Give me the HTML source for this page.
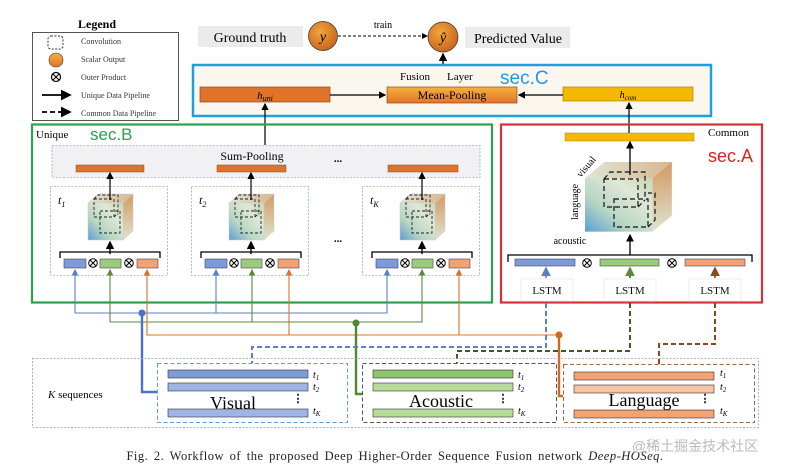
<!DOCTYPE html>
<html><head><meta charset="utf-8"><style>
body{margin:0;background:#fff}
svg{display:block;font-family:"Liberation Serif",serif}
</style></head><body>
<svg width="786" height="470" viewBox="0 0 786 470" xmlns="http://www.w3.org/2000/svg">
<defs>
<linearGradient id="cf" x1="0" y1="1" x2="1" y2="0"><stop offset="0" stop-color="#5a9fd0"/><stop offset="0.35" stop-color="#b9d6c4"/><stop offset="0.7" stop-color="#dfe8d8"/><stop offset="1" stop-color="#c9d7b5"/></linearGradient>
<linearGradient id="cs" x1="0" y1="0" x2="0" y2="1"><stop offset="0" stop-color="#d29a62"/><stop offset="1" stop-color="#dfe3d0"/></linearGradient>
<linearGradient id="ct" x1="0" y1="0" x2="1" y2="0"><stop offset="0" stop-color="#dfe6d6"/><stop offset="1" stop-color="#d8b690"/></linearGradient>
<linearGradient id="og" x1="0" y1="0" x2="0" y2="1"><stop offset="0" stop-color="#f7b13c"/><stop offset="1" stop-color="#e2742a"/></linearGradient>
<radialGradient id="ball" cx="0.4" cy="0.35" r="0.7"><stop offset="0" stop-color="#f2a53a"/><stop offset="1" stop-color="#c8621c"/></radialGradient>
<marker id="ah" markerWidth="6" markerHeight="6" refX="5" refY="3" orient="auto"><path d="M0,0L6,3L0,6z" fill="#000"/></marker>
<marker id="ab" markerWidth="6" markerHeight="6" refX="5" refY="3" orient="auto"><path d="M0,0L6,3L0,6z" fill="#5b7fc9"/></marker>
<marker id="ag" markerWidth="6" markerHeight="6" refX="5" refY="3" orient="auto"><path d="M0,0L6,3L0,6z" fill="#5b8a3a"/></marker>
<marker id="ao" markerWidth="6" markerHeight="6" refX="5" refY="3" orient="auto"><path d="M0,0L6,3L0,6z" fill="#d8742c"/></marker>
<marker id="an" markerWidth="6" markerHeight="6" refX="5" refY="3" orient="auto"><path d="M0,0L6,3L0,6z" fill="#8a4a1e"/></marker>
<g id="cube">
<polygon points="0,0 10,-9 45,-9 35,0" fill="url(#ct)" stroke="#ccc" stroke-width="0.5"/>
<polygon points="35,0 45,-9 45,28 35,37" fill="url(#cs)" stroke="#ccc" stroke-width="0.5"/>
<rect x="0" y="0" width="35" height="37" fill="url(#cf)" stroke="#ccc" stroke-width="0.5"/>
<g fill="none" stroke="#222" stroke-width="0.9" stroke-dasharray="3,2">
<rect x="6" y="-4" width="20" height="18"/><rect x="12" y="8" width="20" height="22"/><path d="M6,-4L10,-8H30V12M26,14L30,10"/>
</g>
</g>
</defs>

<!-- Legend -->
<text x="97" y="28" font-size="12" font-weight="bold" text-anchor="middle">Legend</text>
<rect x="32.5" y="32.5" width="146" height="88" fill="#fff" stroke="#555"/>
<rect x="48" y="36" width="15" height="13" rx="3" fill="none" stroke="#333" stroke-dasharray="2,1.5"/>
<circle cx="56" cy="60" r="7" fill="url(#og)" stroke="#333" stroke-width="0.6"/>
<circle cx="56" cy="77" r="4.5" fill="none" stroke="#000" stroke-width="1.2"/><path d="M53,74L59,80M59,74L53,80" stroke="#000" stroke-width="1.1"/>
<line x1="42" y1="95" x2="70" y2="95" stroke="#000" stroke-width="1.8" marker-end="url(#ah)"/>
<line x1="42" y1="112" x2="70" y2="112" stroke="#000" stroke-width="1.8" stroke-dasharray="5,3" marker-end="url(#ah)"/>
<g font-size="8" fill="#333"><text x="81" y="44">Convolution</text><text x="81" y="62">Scalar Output</text><text x="81" y="80">Outer Product</text><text x="81" y="98">Unique Data Pipeline</text><text x="81" y="116">Common Data Pipeline</text></g>

<!-- top -->
<rect x="198" y="26" width="105" height="21" fill="#ebebeb"/>
<text x="250" y="42" font-size="14" text-anchor="middle">Ground truth</text>
<circle cx="323" cy="36" r="14.5" fill="url(#ball)" stroke="#333" stroke-width="0.7"/>
<text x="323" y="41" font-size="14" font-style="italic" text-anchor="middle">y</text>
<line x1="338" y1="36" x2="427" y2="36" stroke="#000" stroke-dasharray="3,2" marker-end="url(#ah)"/>
<text x="383" y="28" font-size="10" text-anchor="middle">train</text>
<circle cx="443" cy="37" r="15" fill="url(#ball)" stroke="#333" stroke-width="0.7"/>
<text x="443" y="42" font-size="14" font-style="italic" text-anchor="middle">ŷ</text>
<rect x="465" y="27" width="105" height="21" fill="#ebebeb"/>
<text x="518" y="43" font-size="14" text-anchor="middle">Predicted Value</text>
<line x1="443" y1="95" x2="443" y2="54" stroke="#000" stroke-width="1.4" marker-end="url(#ah)"/>

<!-- fusion -->
<rect x="193" y="65" width="518" height="51" fill="#fbf7ef" stroke="#1ea0dc" stroke-width="2.5"/>
<text x="400" y="80" font-size="11">Fusion</text><text x="447" y="80" font-size="11">Layer</text>
<text x="500" y="84" font-size="19" fill="#1e9be0" font-family="Liberation Sans,sans-serif">sec.C</text>
<rect x="200" y="87" width="130" height="15" fill="#e0732a" stroke="#8a4a1e" stroke-width="0.7"/>
<text x="265" y="99" font-size="11" font-style="italic" text-anchor="middle">h<tspan font-size="8" dy="2">uni</tspan></text>
<rect x="387" y="87" width="130" height="16" fill="url(#og)" stroke="#8a4a1e" stroke-width="0.7"/>
<text x="452" y="99" font-size="12" text-anchor="middle">Mean-Pooling</text>
<rect x="563" y="87" width="130" height="14" fill="#f5b800" stroke="#b08010" stroke-width="0.7"/>
<text x="628" y="98" font-size="10" font-style="italic" text-anchor="middle">h<tspan font-size="7" dy="2">com</tspan></text>
<line x1="330" y1="95" x2="385" y2="95" stroke="#000" stroke-width="1.2" marker-end="url(#ah)"/>
<line x1="563" y1="95" x2="519" y2="95" stroke="#000" stroke-width="1.2" marker-end="url(#ah)"/>
<line x1="265" y1="145" x2="265" y2="104" stroke="#000" stroke-width="1.2" marker-end="url(#ah)"/>
<line x1="629" y1="133" x2="629" y2="103" stroke="#000" stroke-width="1.2" marker-end="url(#ah)"/>

<!-- Unique -->
<rect x="32" y="124.5" width="460" height="178" fill="none" stroke="#2aa050" stroke-width="2.2"/>
<text x="36" y="138" font-size="11">Unique</text>
<text x="90" y="140" font-size="17" fill="#2aa050" font-family="Liberation Sans,sans-serif">sec.B</text>
<rect x="52" y="145.5" width="428" height="32" fill="#f1f1f3" stroke="#7a8ab0" stroke-width="0.6" stroke-dasharray="2,1.5"/>
<text x="252" y="160" font-size="12" text-anchor="middle">Sum-Pooling</text>
<text x="338" y="162" font-size="11" font-weight="bold" text-anchor="middle">...</text>
<text x="338" y="242" font-size="11" font-weight="bold" text-anchor="middle">...</text>
<rect x="76" y="165" width="68" height="7" fill="#e0732a" stroke="#8a4a1e" stroke-width="0.5"/>
<rect x="217" y="165" width="69" height="7" fill="#e0732a" stroke="#8a4a1e" stroke-width="0.5"/>
<rect x="388" y="165" width="70" height="7" fill="#e0732a" stroke="#8a4a1e" stroke-width="0.5"/>

<g id="sub">
<rect x="50.5" y="186.5" width="117" height="89" fill="none" stroke="#7a8ab0" stroke-width="0.6" stroke-dasharray="2,1.5"/>
<use href="#cube" x="88" y="203"/>
<line x1="110" y1="200" x2="110" y2="173" stroke="#000" stroke-width="1.2" marker-end="url(#ah)"/>
<line x1="110" y1="254" x2="110" y2="242" stroke="#000" stroke-width="1.4" marker-end="url(#ah)"/>
<path d="M60,258V252H160V258" fill="none" stroke="#000" stroke-width="1.3"/>
<rect x="64" y="259" width="22" height="9" fill="#7c9bd8" stroke="#445" stroke-width="0.6"/>
<rect x="100" y="259" width="21" height="9" fill="#9ccc7a" stroke="#445" stroke-width="0.6"/>
<rect x="137" y="259" width="21" height="9" fill="#f2a274" stroke="#445" stroke-width="0.6"/>
<g stroke="#000" stroke-width="1" fill="none"><circle cx="93" cy="263" r="4.3"/><path d="M90,260L96,266M96,260L90,266"/><circle cx="129" cy="263" r="4.3"/><path d="M126,260L132,266M132,260L126,266"/></g>
</g>
<use href="#sub" x="141"/>
<use href="#sub" x="312"/>
<g font-size="12" font-style="italic"><text x="58" y="204">t<tspan font-size="8" dy="3">1</tspan></text><text x="199" y="204">t<tspan font-size="8" dy="3">2</tspan></text><text x="370" y="204">t<tspan font-size="8" dy="3">K</tspan></text></g>

<!-- Common -->
<rect x="501" y="124.5" width="261" height="178" fill="none" stroke="#d8303a" stroke-width="2.2"/>
<text x="708" y="136" font-size="11">Common</text>
<text x="708" y="162" font-size="18" fill="#e02020" font-family="Liberation Sans,sans-serif">sec.A</text>
<rect x="565" y="133" width="129" height="8" fill="#f5b800" stroke="#b08010" stroke-width="0.5"/>
<g transform="translate(585,178) scale(1.93,1.45)">
<polygon points="0,0 10,-11 45,-11 35,0" fill="url(#ct)"/>
<polygon points="35,0 45,-11 45,26 35,37" fill="url(#cs)"/>
<rect x="0" y="0" width="35" height="37" fill="url(#cf)"/>
</g>
<g fill="none" stroke="#111" stroke-width="1.2" stroke-dasharray="5,3"><rect x="604" y="179" width="34" height="28"/><rect x="614" y="199" width="34" height="28"/><path d="M604,179L610,172H645V200M638,207L645,200M648,227L655,220V193H648"/></g>
<line x1="630" y1="175" x2="630" y2="142" stroke="#000" stroke-width="1.3" marker-end="url(#ah)"/>
<line x1="630" y1="255" x2="630" y2="235" stroke="#000" stroke-width="1.3" marker-end="url(#ah)"/>
<text x="570" y="244" font-size="10" text-anchor="middle">acoustic</text>
<text transform="translate(578,220) rotate(-90)" font-size="10">language</text>
<text transform="translate(581,178) rotate(-50)" font-size="10">visual</text>
<path d="M508,262V255H752V262" fill="none" stroke="#000" stroke-width="1.3"/>
<rect x="515" y="259" width="60" height="7" fill="#7c9bd8" stroke="#445" stroke-width="0.6"/>
<rect x="600" y="259" width="59" height="7" fill="#9ccc7a" stroke="#445" stroke-width="0.6"/>
<rect x="685" y="259" width="60" height="7" fill="#f2a274" stroke="#445" stroke-width="0.6"/>
<g stroke="#000" stroke-width="1" fill="none"><circle cx="587" cy="263" r="4.3"/><path d="M584,260L590,266M590,260L584,266"/><circle cx="672" cy="263" r="4.3"/><path d="M669,260L675,266M675,260L669,266"/></g>
<g font-size="11" text-anchor="middle" fill="#111">
<rect x="521" y="279" width="52" height="22" fill="#fff" stroke="#eee"/><text x="547" y="294">LSTM</text>
<rect x="604" y="279" width="52" height="22" fill="#fff" stroke="#eee"/><text x="630" y="294">LSTM</text>
<rect x="689" y="279" width="52" height="22" fill="#fff" stroke="#eee"/><text x="715" y="294">LSTM</text>
</g>
<line x1="546" y1="278" x2="546" y2="268" stroke="#5b7fc9" stroke-width="1.6" stroke-dasharray="3,2" marker-end="url(#ab)"/>
<line x1="630" y1="278" x2="630" y2="268" stroke="#3e5a28" stroke-width="1.6" stroke-dasharray="3,2" marker-end="url(#ag)"/>
<line x1="715" y1="278" x2="715" y2="268" stroke="#8a4a1e" stroke-width="1.6" stroke-dasharray="3,2" marker-end="url(#an)"/>

<!-- unique connectors -->
<g fill="none" stroke-width="1.1">
<path d="M75,313H387V270" stroke="#5b7fc9" marker-end="url(#ab)"/>
<path d="M216,313V270" stroke="#5b7fc9" marker-end="url(#ab)"/>
<path d="M75,313V270" stroke="#5b7fc9" marker-end="url(#ab)"/>
<path d="M110,322H422V270" stroke="#5b8a3a" marker-end="url(#ag)"/>
<path d="M110,322V270" stroke="#5b8a3a" marker-end="url(#ag)"/>
<path d="M252,322V270" stroke="#5b8a3a" marker-end="url(#ag)"/>
<path d="M559,335H147V270" stroke="#d8742c" marker-end="url(#ao)"/>
<path d="M289,335V270" stroke="#d8742c" marker-end="url(#ao)"/>
<path d="M459,335V270" stroke="#d8742c" marker-end="url(#ao)"/>
</g>
<path d="M142,313V392H157" fill="none" stroke="#4a72c8" stroke-width="2.4"/>
<circle cx="142" cy="313" r="3.5" fill="#4a72c8"/>
<path d="M356,323V394H362" fill="none" stroke="#4f8a30" stroke-width="2.4"/>
<circle cx="356" cy="323" r="3.5" fill="#4f8a30"/>
<path d="M559,335V396H563" fill="none" stroke="#d06a20" stroke-width="2.4"/>
<circle cx="559" cy="335" r="3.5" fill="#d06a20"/>
<!-- common dashed -->
<g fill="none" stroke-width="2" stroke-dasharray="5,3">
<path d="M546,303V347H252V363" stroke="#5b7fc9"/>
<path d="M630,303V351H457V363" stroke="#3e5a28"/>
<path d="M715,303V344H659V364" stroke="#8a4a1e"/>
</g>

<!-- bottom -->
<rect x="32.5" y="358.5" width="726" height="69" fill="none" stroke="#8aa0c0" stroke-width="0.8" stroke-dasharray="2,1.5"/>
<text x="48" y="398" font-size="11"><tspan font-style="italic">K</tspan> sequences</text>
<rect x="157.5" y="363.5" width="190" height="59" fill="none" stroke="#5b9fdc" stroke-dasharray="4,2.5"/>
<rect x="362.5" y="363.5" width="194" height="59" fill="none" stroke="#555" stroke-dasharray="4,2.5"/>
<rect x="563.5" y="364.5" width="191" height="58" fill="none" stroke="#9a6a48" stroke-dasharray="4,2.5"/>
<g stroke="#333" stroke-width="0.6">
<rect x="168" y="370" width="140" height="8" fill="#7c9bd8"/><rect x="168" y="383" width="140" height="8" fill="#9db4e4"/><rect x="168" y="409" width="140" height="8" fill="#9db4e4"/>
<rect x="373" y="370" width="140" height="8" fill="#8fc46a"/><rect x="373" y="383" width="140" height="8" fill="#b4dc98"/><rect x="373" y="409" width="140" height="8" fill="#b4dc98"/>
<rect x="574" y="372" width="140" height="8" fill="#f2a274"/><rect x="574" y="385" width="140" height="8" fill="#f8c4a4"/><rect x="574" y="410" width="140" height="8" fill="#f2a274"/>
</g>
<g font-size="18" text-anchor="middle"><text x="233" y="409">Visual</text><text x="441" y="407">Acoustic</text><text x="644" y="406">Language</text></g>
<g font-size="10" font-style="italic">
<text x="313" y="378">t<tspan font-size="7" dy="2">1</tspan></text><text x="313" y="390">t<tspan font-size="7" dy="2">2</tspan></text><text x="313" y="414">t<tspan font-size="7" dy="2">K</tspan></text>
<text x="518" y="378">t<tspan font-size="7" dy="2">1</tspan></text><text x="518" y="390">t<tspan font-size="7" dy="2">2</tspan></text><text x="518" y="414">t<tspan font-size="7" dy="2">K</tspan></text>
<text x="720" y="376">t<tspan font-size="7" dy="2">1</tspan></text><text x="720" y="390">t<tspan font-size="7" dy="2">2</tspan></text><text x="720" y="414">t<tspan font-size="7" dy="2">K</tspan></text>
</g>
<g font-size="11" font-weight="bold" text-anchor="middle"><text x="298" y="402">⋮</text><text x="503" y="402">⋮</text><text x="705" y="402">⋮</text></g>

<text x="395" y="460" font-size="12.5" letter-spacing="0.5" word-spacing="2" text-anchor="middle" fill="#222">Fig. 2.  Workflow of the proposed Deep Higher-Order Sequence Fusion network <tspan font-style="italic">Deep-HOSeq</tspan>.</text>
<text x="695" y="451" font-size="14" text-anchor="middle" fill="#bbb" font-family="Liberation Sans,'Noto Sans CJK SC',sans-serif">@稀土掘金技术社区</text>
</svg>
</body></html>
